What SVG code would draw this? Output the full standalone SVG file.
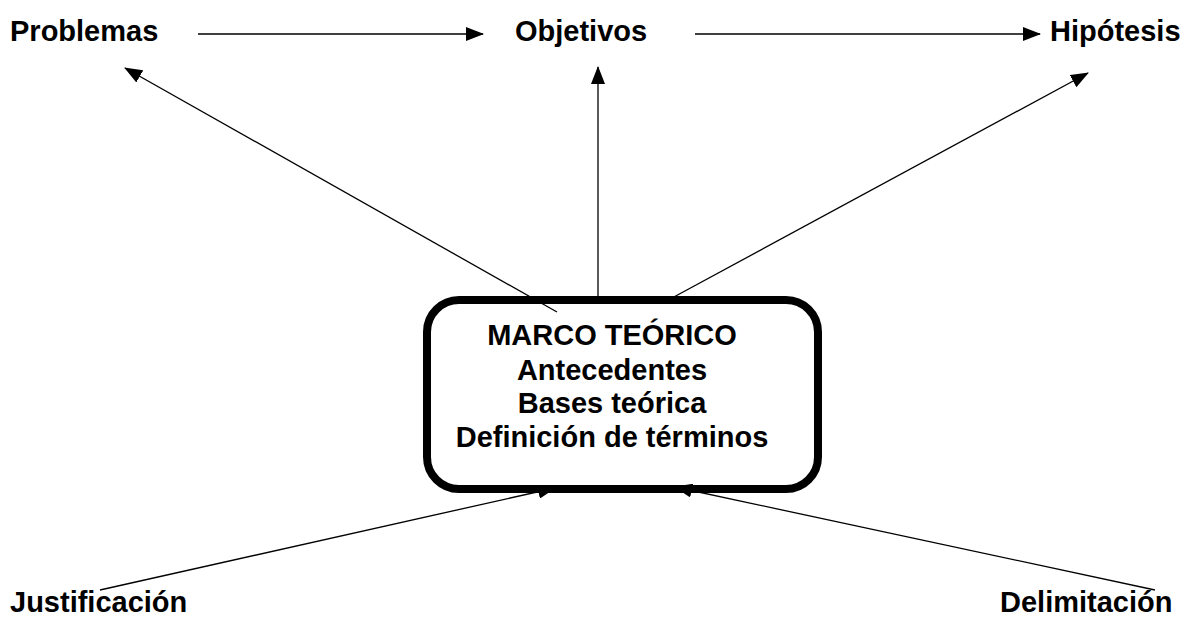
<svg xmlns="http://www.w3.org/2000/svg" width="1184" height="617" viewBox="0 0 1184 617">
<style>
.t{font-family:"Liberation Sans",Arial,sans-serif;font-weight:bold;font-size:29px;fill:#000}
.c{stroke:#000;stroke-width:1.3;fill:none}
</style>
<defs>
<marker id="ah" viewBox="0 0 18 14" refX="17" refY="7" markerWidth="18" markerHeight="14" markerUnits="userSpaceOnUse" orient="auto">
<path d="M0,0 L18,7 L0,14 Z" fill="#000"/>
</marker>
</defs>
<rect width="1184" height="617" fill="#fff"/>
<g id="connectors">
<line class="c" x1="198" y1="34" x2="483" y2="34" marker-end="url(#ah)"/>
<line class="c" x1="695" y1="34" x2="1040" y2="34" marker-end="url(#ah)"/>
<line class="c" x1="557" y1="312" x2="125" y2="68" marker-end="url(#ah)"/>
<line class="c" x1="598" y1="296" x2="598" y2="67" marker-end="url(#ah)"/>
<line class="c" x1="672" y1="298" x2="1088" y2="73" marker-end="url(#ah)"/>
<line class="c" x1="100" y1="590" x2="555" y2="488" marker-end="url(#ah)"/>
<line class="c" x1="1155" y1="590" x2="675" y2="487" marker-end="url(#ah)"/>
</g>
<g id="problemas"><text class="t" x="10" y="41">Problemas</text></g>
<g id="objetivos"><text class="t" x="515" y="41">Objetivos</text></g>
<g id="hipotesis"><text class="t" x="1050" y="41">Hipótesis</text></g>
<g id="marco">
<rect x="427" y="300" width="391" height="189" rx="32" fill="none" stroke="#000" stroke-width="8"/>
<text class="t" text-anchor="middle" x="612" y="345">MARCO TEÓRICO</text>
<text class="t" text-anchor="middle" x="612" y="380">Antecedentes</text>
<text class="t" text-anchor="middle" x="612" y="413">Bases teórica</text>
<text class="t" text-anchor="middle" x="612" y="447">Definición de términos</text>
</g>
<g id="justificacion"><text class="t" x="10" y="612">Justificación</text></g>
<g id="delimitacion"><text class="t" x="1000" y="612">Delimitación</text></g>
</svg>
